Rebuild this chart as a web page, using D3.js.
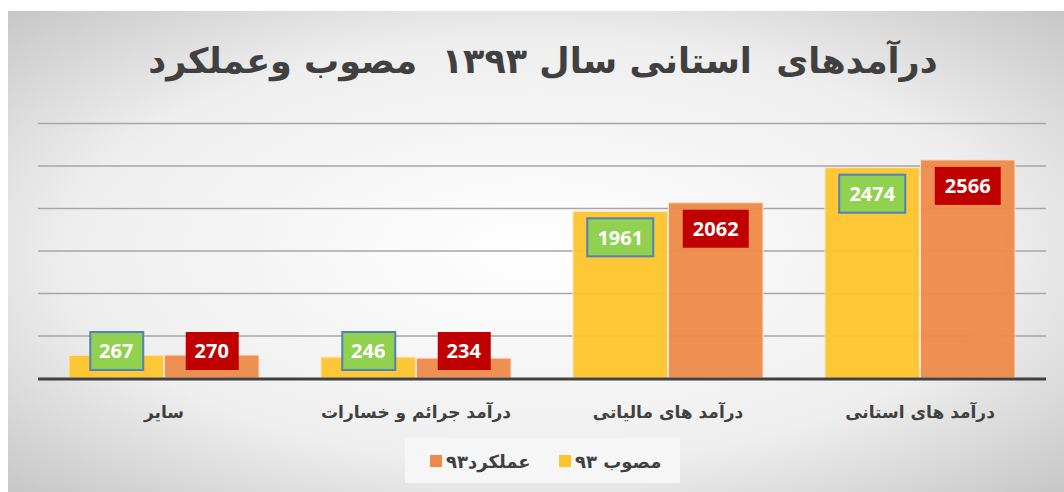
<!DOCTYPE html>
<html>
<head>
<meta charset="utf-8">
<script src="https://cdn.jsdelivr.net/npm/d3@7"></script>
<style>
  html, body { margin: 0; padding: 0; background: #fff; }
  svg { display: block; }
</style>
</head>
<body>
<div id="chart"></div>
<script>
// categories, left to right as drawn (rtl chart)
var categories = ["سایر", "درآمد جرائم و خسارات", "درآمد های مالیاتی", "درآمد های استانی"];
var approved = [267, 246, 1961, 2474];   // مصوب ۹۳
var actual   = [270, 234, 2062, 2566];   // عملکرد۹۳
var seriesNames = ["مصوب ۹۳", "عملکرد۹۳"];
var gridTicks = [500, 1000, 1500, 2000, 2500, 3000];

var W = 1064, H = 492;
var margin = {top: 123, left: 38, right: 18, bottom: 114};
var plotW = W - margin.left - margin.right;
var plotH = H - margin.top - margin.bottom;

var svg = d3.select('#chart').append('svg')
    .attr('width', W)
    .attr('height', H);

var defs = svg.append('defs');
var grad = defs.append('radialGradient')
    .attr('id', 'bg')
    .attr('cx', '50%').attr('cy', '50%').attr('r', '71%');
grad.append('stop').attr('offset', '0%').attr('stop-color', '#ffffff');
grad.append('stop').attr('offset', '62%').attr('stop-color', '#eeeeee');
grad.append('stop').attr('offset', '100%').attr('stop-color', '#c6c6c6');

svg.append('rect')
    .attr('x', 8).attr('y', 11)
    .attr('width', W - 8).attr('height', H - 11)
    .attr('fill', 'url(#bg)');

var g = svg.append('g')
    .attr('transform', 'translate(' + margin.left + ',' + margin.top + ')');

var x = d3.scaleBand().domain(categories).range([0, plotW]).paddingInner(0).paddingOuter(0);
var xs = d3.scaleBand().domain([0, 1]).range([31, x.bandwidth() - 31]).paddingInner(0.01);
var y = d3.scaleLinear().domain([0, 3000]).range([plotH, 0]);

// gridlines
g.selectAll('.grid')
    .data(gridTicks)
    .enter().append('line')
    .attr('class', 'grid')
    .attr('x1', 0).attr('x2', plotW)
    .attr('y1', function(d) { return y(d) + 0.5; })
    .attr('y2', function(d) { return y(d) + 0.5; })
    .attr('stroke', '#a6a6a6')
    .attr('stroke-width', 1.5);

var colors = ['#fec42a', '#ee8a4a'];
var labelFill = ['#92d050', '#c00000'];

var rows = categories.map(function(c, i) {
    return {cat: c, vals: [approved[i], actual[i]]};
});

var groups = g.selectAll('.grp')
    .data(rows)
    .enter().append('g')
    .attr('class', 'grp')
    .attr('transform', function(d) { return 'translate(' + x(d.cat) + ',0)'; });

groups.selectAll('rect.bar')
    .data(function(d) { return d.vals.map(function(v, s) { return {v: v, s: s}; }); })
    .enter().append('rect')
    .attr('class', 'bar')
    .attr('x', function(d) { return xs(d.s); })
    .attr('y', function(d) { return y(d.v); })
    .attr('width', xs.bandwidth())
    .attr('height', function(d) { return plotH - y(d.v); })
    .attr('fill', function(d) { return colors[d.s]; })
    .attr('fill-opacity', 0.95)
    .attr('stroke', '#fbe3cf')
    .attr('stroke-width', 1);

// axis baseline
g.append('line')
    .attr('x1', 0).attr('x2', plotW)
    .attr('y1', plotH + 1).attr('y2', plotH + 1)
    .attr('stroke', '#404040')
    .attr('stroke-width', 3);

// value labels
var labels = groups.selectAll('g.lbl')
    .data(function(d) { return d.vals.map(function(v, s) { return {v: v, s: s}; }); })
    .enter().append('g')
    .attr('class', 'lbl')
    .attr('transform', function(d) {
        var cy = Math.min(y(d.v) + 26, plotH - 27);
        return 'translate(' + (xs(d.s) + xs.bandwidth() / 2) + ',' + cy + ')';
    });

labels.append('rect')
    .attr('x', function(d) { return String(d.v).length > 3 ? -33 : -26; })
    .attr('y', -19)
    .attr('width', function(d) { return String(d.v).length > 3 ? 66 : 53; })
    .attr('height', 38)
    .attr('fill', function(d) { return labelFill[d.s]; })
    .attr('stroke', function(d) { return d.s === 0 ? '#4f81bd' : 'none'; })
    .attr('stroke-width', 2);

labels.append('text')
    .attr('text-anchor', 'middle')
    .attr('dy', '0.36em')
    .attr('fill', '#ffffff')
    .attr('font-family', 'Open Sans, Noto Sans, sans-serif')
    .attr('font-weight', 'bold')
    .attr('font-size', 20)
    .text(function(d) { return d.v; });

// category labels
var xAxis = d3.axisBottom(x).tickSize(0).tickPadding(0);
var ax = g.append('g')
    .attr('transform', 'translate(0,' + (plotH + 28) + ')')
    .call(xAxis);
ax.select('.domain').remove();
ax.selectAll('text')
    .attr('font-family', 'DejaVu Sans, sans-serif')
    .attr('font-weight', 'bold')
    .attr('font-size', 17)
    .attr('fill', '#404040')
    .attr('direction', 'rtl');

// title
svg.append('text')
    .attr('x', 543).attr('y', 73)
    .attr('text-anchor', 'middle')
    .attr('direction', 'rtl')
    .style('white-space', 'pre')
    .attr('font-family', 'DejaVu Sans, sans-serif')
    .attr('font-weight', 'bold')
    .attr('font-size', 35)
    .attr('fill', '#404040')
    .text('درآمدهای  استانی سال ۱۳۹۳  مصوب وعملکرد');

// legend
var legend = svg.append('g');
legend.append('rect')
    .attr('x', 405).attr('y', 438)
    .attr('width', 275).attr('height', 45)
    .attr('fill', '#f6f6f6');

var legItems = [
    {name: seriesNames[0], color: colors[0], sq: 559, tx: 575},
    {name: seriesNames[1], color: colors[1], sq: 430, tx: 446}
];
legItems.forEach(function(d) {
    legend.append('rect')
        .attr('x', d.sq).attr('y', 455)
        .attr('width', 12).attr('height', 12)
        .attr('fill', d.color);
    legend.append('text')
        .attr('x', d.tx).attr('y', 468)
        .attr('text-anchor', 'start')
        .attr('direction', 'ltr')
        .attr('font-family', 'DejaVu Sans, sans-serif')
        .attr('font-weight', 'bold')
        .attr('font-size', 18)
        .attr('fill', '#404040')
        .text(d.name);
});
</script>
</body>
</html>
